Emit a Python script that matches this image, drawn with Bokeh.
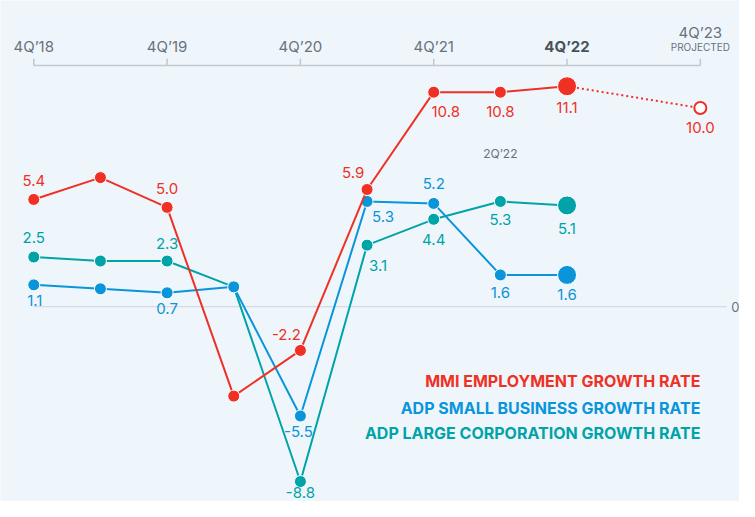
from bokeh.plotting import figure
from bokeh.models import Range1d, ColumnDataSource
from bokeh.core.properties import value
from bokeh.embed import file_html
from bokeh.resources import INLINE

# ---- data ----
periods = ["4Q’18", "2Q’19", "4Q’19", "2Q’20", "4Q’20", "2Q’21", "4Q’21", "2Q’22", "4Q’22"]
mmi = [5.4, 6.5, 5.0, -4.5, -2.2, 5.9, 10.8, 10.8, 11.1]
adp_small = [1.1, 0.9, 0.7, 1.0, -5.5, 5.3, 5.2, 1.6, 1.6]
adp_large = [2.5, 2.3, 2.3, 1.0, -8.8, 3.1, 4.4, 5.3, 5.1]
projected_period = "4Q’23"
mmi_projected = 10.0
tick_labels = ["4Q’18", "4Q’19", "4Q’20", "4Q’21", "4Q’22", "4Q’23"]
legend_labels = ["MMI EMPLOYMENT GROWTH RATE", "ADP SMALL BUSINESS GROWTH RATE",
                 "ADP LARGE CORPORATION GROWTH RATE"]
mid_label = "2Q’22"

# ---- styling ----
RED = "#ee3124"
BLUE = "#0a94d9"
TEAL = "#00a3a7"
GRAY = "#69727a"
AXIS = "#c3c8cc"
BG = "#eef6fc"
FONT = "Inter"

xs = list(range(len(periods)))
x_proj = 10  # half-year index of 4Q'23

# layout helpers (reference-pixel -> data units)
def vy(ref_y):
    return (316 - ref_y) / 20.5

def ix(ref_x):
    return (ref_x - 34) / 68.1

p = figure(width=739, height=501, output_backend="svg", toolbar_location=None,
           x_range=Range1d(ix(0), ix(755)), y_range=Range1d(vy(517), vy(0)),
           min_border=0, background_fill_color=BG, border_fill_color=BG,
           outline_line_color=None)
p.xaxis.visible = False
p.yaxis.visible = False
p.xgrid.visible = False
p.ygrid.visible = False

# zero line
p.segment(x0=[0], y0=[0], x1=[ix(742)], y1=[0], line_color="#cfd4d8", line_width=1)
p.text(x=[ix(755)], y=[0], text=["0"], text_font=value(FONT), text_font_size="13px",
       text_color=GRAY, text_baseline="middle", text_align="right")

# top axis
tick_x = [xs[0], xs[2], xs[4], xs[6], xs[8], x_proj]
p.segment(x0=[tick_x[0]], y0=[vy(67)], x1=[tick_x[-1]], y1=[vy(67)], line_color=AXIS, line_width=1.5)
p.segment(x0=tick_x, y0=[vy(67)] * len(tick_x), x1=tick_x, y1=[vy(60)] * len(tick_x),
          line_color=AXIS, line_width=1.5)
normal_idx = [0, 1, 2, 3]
p.text(x=[tick_x[i] for i in normal_idx], y=[vy(47)] * 4, text=[tick_labels[i] for i in normal_idx],
       text_font=value(FONT), text_font_size="15px", text_color=GRAY,
       text_align="center", text_baseline="middle")
p.text(x=[tick_x[4]], y=[vy(47)], text=[tick_labels[4]], text_font=value(FONT),
       text_font_size="15px", text_font_style="bold", text_color="#4a525a",
       text_align="center", text_baseline="middle")
p.text(x=[tick_x[5]], y=[vy(33)], text=[tick_labels[5]], text_font=value(FONT),
       text_font_size="15px", text_color=GRAY, text_align="center", text_baseline="middle")
p.text(x=[tick_x[5]], y=[vy(48)], text=["PROJECTED"], text_font=value(FONT),
       text_font_size="10px", text_color=GRAY, text_align="center", text_baseline="middle")

p.text(x=[xs[7]], y=[vy(158)], text=[mid_label], text_font=value(FONT), text_font_size="12px",
       text_color=GRAY, text_align="center", text_baseline="middle")

# series
labeled = [True, False, True, False, True, True, True, True, True]

def draw_series(vals, color, offsets):
    p.line(xs, vals, line_color=color, line_width=2)
    p.scatter(xs[:-1], vals[:-1], size=12, fill_color=color, line_color="white", line_width=1)
    p.scatter([xs[-1]], [vals[-1]], size=19, fill_color=color, line_color="white", line_width=1)
    lx, ly, lt, dx, dy = [], [], [], [], []
    for i, v in enumerate(vals):
        if labeled[i]:
            lx.append(xs[i]); ly.append(v); lt.append(f"{v:.1f}")
            dx.append(offsets[i][0]); dy.append(offsets[i][1])
    src = ColumnDataSource(dict(x=lx, y=ly, t=lt, dx=dx, dy=dy))
    p.text(x="x", y="y", text="t", x_offset="dx", y_offset="dy", source=src,
           text_font=value(FONT), text_font_size="15px", text_color=color,
           text_align="center", text_baseline="middle")

teal_off = [(0, -20), None, (0, -18), None, (0, 11), (11, 20), (0, 20), (0, 18), (0, 23)]
blue_off = [(1, 16), None, (0, 16), None, (-2, 16), (16, 15), (0, -20), (0, 18), (0, 20)]
red_off = [(0, -19), None, (0, -19), None, (-14, -16), (-14, -17), (12, 19), (0, 19), (0, 21)]

draw_series(adp_large, TEAL, teal_off)
draw_series(adp_small, BLUE, blue_off)

# projection
p.line([xs[-1], x_proj], [mmi[-1], mmi_projected], line_color=RED, line_width=2, line_dash="2 3")
draw_series(mmi, RED, red_off)
p.scatter([x_proj], [mmi_projected], size=12, fill_color="white", line_color=RED, line_width=2)
p.text(x=[x_proj], y=[mmi_projected], text=[f"{mmi_projected:.1f}"], y_offset=19,
       text_font=value(FONT), text_font_size="15px", text_color=RED,
       text_align="center", text_baseline="middle")

# legend (right-aligned text)
leg_colors = [RED, BLUE, TEAL]
leg_y = [vy(393), vy(420), vy(446)]
p.text(x=[x_proj] * 3, y=leg_y, text=legend_labels, text_color=leg_colors,
       text_font=value(FONT), text_font_size="16px", text_font_style="bold",
       text_align="right", text_baseline="middle")

html = file_html(p, INLINE)
html = html.replace("<body>", f'<body style="background:{BG}">', 1)
open("out.html", "w").write(html)
